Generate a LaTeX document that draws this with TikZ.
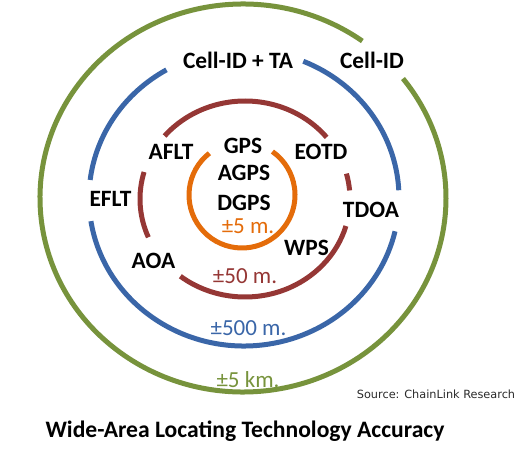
\documentclass[tikz,border=0pt]{standalone}
\usepackage{fontspec}
\setmainfont{Carlito}
\newfontfamily\srcfont{DejaVu Sans}
\usetikzlibrary{positioning}
\definecolor{kmgreen}{HTML}{77933C}
\definecolor{kmblue}{HTML}{3A66A8}
\definecolor{kmred}{HTML}{953735}
\definecolor{kmorange}{HTML}{E46C0A}
\definecolor{srcgray}{HTML}{2A2A2A}

\begin{document}
\begin{tikzpicture}[x=1pt,y=1pt,
  ring/.style={line width=5pt},
  tech/.style={font=\bfseries\fontsize{23.4}{26}\selectfont,anchor=base,inner sep=0pt,text height=15pt,text depth=0pt},
  acc/.style={font=\fontsize{23}{26}\selectfont,anchor=base,inner sep=0pt,text height=14pt,text depth=0pt}]
\useasboundingbox (0,0) rectangle (529,450);
% rings, outer to inner
\foreach \a/\b in {54/398} \draw[ring,kmgreen] (243,252) ++(\a:203 and 194) arc[start angle=\a,end angle=\b,x radius=203,y radius=194];
\foreach \a/\b in {3/67.5,120/173,189/347} \draw[ring,kmblue] (244,252) ++(\a:155 and 148) arc[start angle=\a,end angle=\b,x radius=155,y radius=148];
\foreach \a/\b in {39/140,164/203,232/344,5/15} \draw[ring,kmred] (245,251) ++(\a:105 and 98) arc[start angle=\a,end angle=\b,x radius=105,y radius=98];
\foreach \a/\b in {128/415} \draw[ring,kmorange] (242,255) ++(\a:53 and 53) arc[start angle=\a,end angle=\b,x radius=53,y radius=53];
% technologies
\node[tech] (cellta) at (238,381) {Cell-ID + TA};
\node[tech] (cellid) at (372,381) {Cell-ID};
\node[tech] (aflt) at (171,290) {AFLT};
\node[tech] (gps) at (243,296) {GPS};
\node[tech] (eotd) at (321,290) {EOTD};
\node[tech] (agps) at (244,269) {AGPS};
\node[tech] (eflt) at (110.5,243) {EFLT};
\node[tech] (dgps) at (244,240) {DGPS};
\node[tech] (tdoa) at (371,232) {TDOA};
\node[tech] (wps) at (306.5,195) {WPS};
\node[tech] (aoa) at (153.5,182) {AOA};
% accuracies
\node[acc,text=kmorange] (acc5m) at (248,216.5) {±5 m.};
\node[acc,text=kmred] (acc50m) at (245,167) {±50 m.};
\node[acc,text=kmblue] (acc500m) at (248.5,115) {±500 m.};
\node[acc,text=kmgreen] (acc5km) at (248,63) {±5 km.};
\node[font=\srcfont\fontsize{11.3}{13}\selectfont,text=srcgray,anchor=base,inner sep=0pt] (source) at (436,52) {Source: ChainLink Research};
\node[font=\bfseries\fontsize{23.6}{26}\selectfont,anchor=base,inner sep=0pt] (title) at (245,13) {Wide-Area Locating Technology Accuracy};
\end{tikzpicture}
\end{document}
